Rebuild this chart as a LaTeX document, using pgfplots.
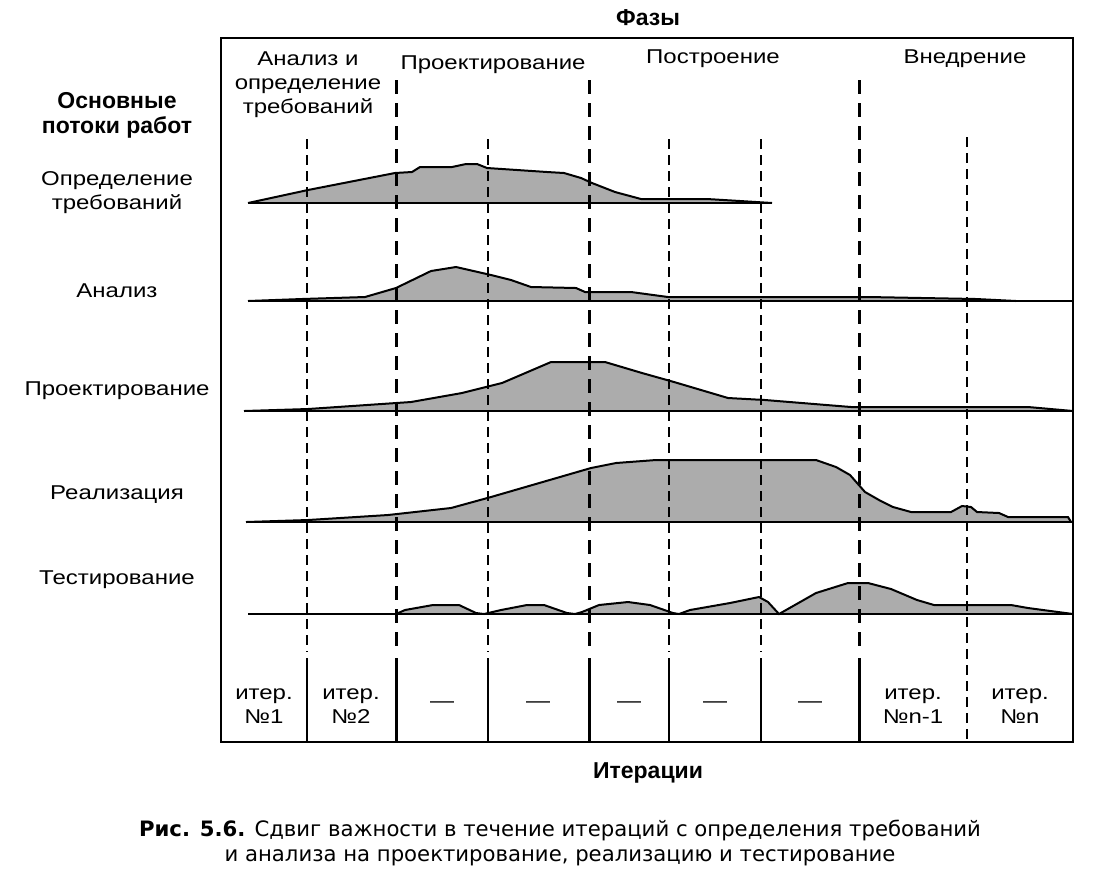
\documentclass[border=0pt]{standalone}
\usepackage{pgfplots}
\pgfplotsset{compat=1.18}
\usepackage{fontspec}
\setmainfont{Liberation Sans}[FakeStretch=1.2]
\newfontfamily\plainfont{Liberation Sans}
\newfontfamily\capfont{DejaVu Sans}

\definecolor{hump}{RGB}{172,172,172}

% workflow curves, pixel coordinates (y grows downwards)
\pgfplotstableread{
x y
248 203
308 190
395 173
412 172
420 167
452 167
466 164
477 164
487 168
547 172
564 173
581 178
592 183
615 192
641 199
707 199
740 201
772 203
}\reqs
\pgfplotstableread{
x y
248 301
302 299
365 297
396 288
431 271
456 267
491 275
511 280
531 287
576 288
585 292
631 292
668 297
760 297
868 297
976 299
1016 301
}\analysis
\pgfplotstableread{
x y
244 411
308 409
411 402
462 393
502 383
551 362
605 362
642 373
674 382
728 398
765 400
851 407
1028 407
1073 411
}\design
\pgfplotstableread{
x y
246 522
308 520
388 515
451 508
491 497
591 468
616 463
656 460
816 460
836 467
850 475
865 492
879 500
893 507
911 512
951 512
962 506
971 507
977 512
999 513
1008 517
1068 517
1071 522
}\impl
\pgfplotstableread{
x y
396 614
405 610
433 605
459 605
476 613
484 614
501 610
527 605
544 605
567 613
575 614
582 612
599 605
628 602
650 605
673 613
679 614
690 610
730 603
759 597
768 602
779 614
816 593
848 583
868 583
891 589
917 600
934 605
1011 605
1028 608
1073 614
}\test

\begin{document}
\begin{tikzpicture}
\begin{axis}[
    width=553pt, height=437.5pt, scale only axis,
    xmin=0, xmax=1106, ymin=0, ymax=875, y dir=reverse,
    hide axis, clip=false,
    every node/.style={font=\fontsize{11}{12.5}\selectfont},
]
\path (axis cs:0,0) rectangle (axis cs:1106,875);

% humps
\addplot[fill=hump, draw=black, line width=1pt] table {\reqs};
\addplot[fill=hump, draw=black, line width=1pt] table {\analysis};
\addplot[fill=hump, draw=black, line width=1pt] table {\design};
\addplot[fill=hump, draw=black, line width=1pt] table {\impl};
\addplot[fill=hump, draw=black, line width=1pt] table {\test};

% baselines
\addplot[black, line width=1.2pt] coordinates {(248,203) (772,203)};
\addplot[black, line width=1.2pt] coordinates {(248,301) (1073,301)};
\addplot[black, line width=1.2pt] coordinates {(244,411) (1073,411)};
\addplot[black, line width=1.2pt] coordinates {(246,522) (1073,522)};
\addplot[black, line width=1.2pt] coordinates {(248,614) (1073,614)};

% frame
\draw[line width=0.8pt] (axis cs:221,38) rectangle (axis cs:1073,742);

% phase boundaries
\foreach \px in {396,589,859} {
  \edef\tmp{\noexpand\draw[line width=1.5pt, dash pattern=on 7pt off 4.5pt]
    (axis cs:\px,80) -- (axis cs:\px,652);
    \noexpand\draw[line width=1.5pt] (axis cs:\px,658) -- (axis cs:\px,742);}
  \tmp
}
% iteration boundaries
\foreach \px in {307,488,669,761} {
  \edef\tmp{\noexpand\draw[line width=0.6pt, dash pattern=on 5pt off 3pt]
    (axis cs:\px,139) -- (axis cs:\px,652);
    \noexpand\draw[line width=0.6pt] (axis cs:\px,658) -- (axis cs:\px,742);}
  \tmp
}
\draw[line width=0.6pt, dash pattern=on 5pt off 3pt] (axis cs:967,137) -- (axis cs:967,742);

% titles
\node[font=\fontsize{11.5}{12.5}\selectfont\plainfont\bfseries] at (axis cs:648,18) {Фазы};
\node[font=\fontsize{11.5}{12.5}\selectfont\plainfont\bfseries] at (axis cs:648,773) {Итерации};

% phase names
\node[align=center] at (axis cs:308,85) {Анализ и\\определение\\требований};
\node at (axis cs:493,65) {Проектирование};
\node at (axis cs:713,59) {Построение};
\node at (axis cs:965,59) {Внедрение};

% workflow names
\node[align=center, font=\fontsize{11.5}{12.5}\selectfont\plainfont\bfseries] at (axis cs:117,115) {Основные\\потоки работ};
\node[align=center] at (axis cs:117,193) {Определение\\требований};
\node at (axis cs:117,291) {Анализ};
\node at (axis cs:117,391) {Проектирование};
\node at (axis cs:117,495) {Реализация};
\node at (axis cs:117,580) {Тестирование};

% iterations
\node[align=center] at (axis cs:264,706) {итер.\\№1};
\node[align=center] at (axis cs:351,706) {итер.\\№2};
\foreach \px in {442,538,629,715,810} {
  \edef\tmp{\noexpand\node at (axis cs:\px,705) {—};}
  \tmp
}
\node[align=center] at (axis cs:913,706) {итер.\\№n-1};
\node[align=center] at (axis cs:1020,706) {итер.\\№n};

% caption
\node[align=center, font=\fontsize{10.6}{12.5}\selectfont\capfont] at (axis cs:560,843)
  {\textbf{Рис. 5.6.} Сдвиг важности в течение итераций с определения требований\\
   и анализа на проектирование, реализацию и тестирование};
\end{axis}
\end{tikzpicture}
\end{document}
